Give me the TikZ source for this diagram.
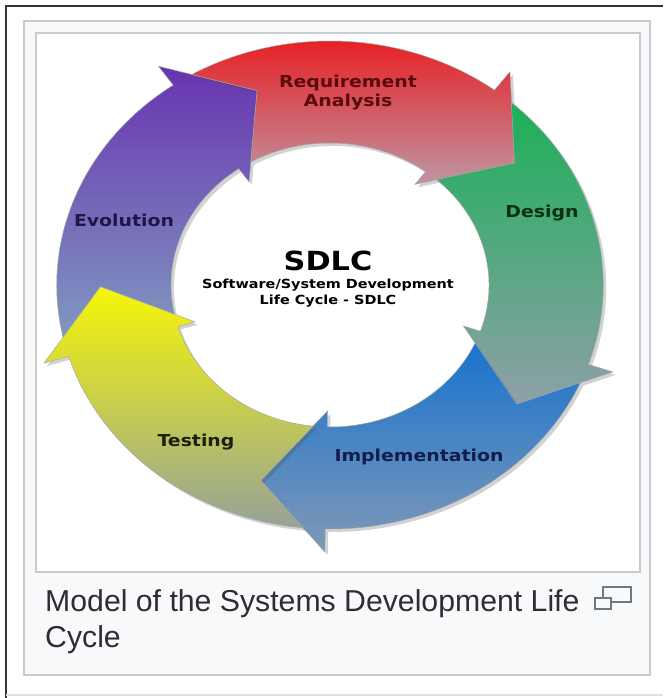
\documentclass[tikz,border=0pt]{standalone}
\usepackage{fontspec}
\setmainfont{Liberation Sans}
\newfontfamily\ringfont[FakeStretch=1.15]{DejaVu Sans}
\usetikzlibrary{shadows}

\definecolor{reqtop}{RGB}{236,20,24}
\definecolor{reqbot}{RGB}{190,150,162}
\definecolor{destop}{RGB}{28,176,88}
\definecolor{desbot}{RGB}{142,160,168}
\definecolor{imptop}{RGB}{24,116,206}
\definecolor{impbot}{RGB}{128,152,182}
\definecolor{testop}{RGB}{246,246,8}
\definecolor{tesbot}{RGB}{150,162,152}
\definecolor{evotop}{RGB}{104,52,176}
\definecolor{evobot}{RGB}{128,152,192}
\definecolor{reqtext}{RGB}{88,10,12}
\definecolor{destext}{RGB}{10,48,24}
\definecolor{imptext}{RGB}{18,28,78}
\definecolor{testext}{RGB}{30,30,10}
\definecolor{evotext}{RGB}{36,20,70}
\definecolor{boxline}{RGB}{200,204,209}
\definecolor{boxfill}{RGB}{248,249,250}
\definecolor{captext}{RGB}{44,46,50}
\definecolor{icongrey}{RGB}{114,119,125}

\tikzset{
  ringarrow/.style={draw=black!35, line width=0.4pt,
    drop shadow={shadow xshift=2.5pt, shadow yshift=-2.5pt, opacity=0.25, fill=black!70}},
  ringlabel/.style={font=\ringfont\bfseries\fontsize{14}{16.2}\selectfont, align=center, inner sep=0pt},
  boxframe/.style={draw=boxline, line width=1.6pt}
}

\begin{document}
\begin{tikzpicture}[x=0.03cm, y=0.03cm]
	\useasboundingbox (0,0) rectangle (663,698);

	% page edges
	\draw[black!80, line width=2.4pt] (6,0) -- (6,692) -- (663,692);
	\draw[black!12, line width=1pt] (6,3) -- (663,3);

	% thumbnail boxes
	\draw[boxframe, fill=boxfill] (24,23) rectangle (650,677);
	\draw[boxframe, fill=white] (36,126) rectangle (640,665);

	% ring of arrows
	\begin{scope}[shift={(330,413)}, xscale=1.12]
		\path[ringarrow, top color=evotop, bottom color=evobot]
			(192.4:244) arc[start angle=192.4, end angle=125, radius=244] -- (125:267) -- (108.5:205)
			-- (125:126) -- (125:142) arc[start angle=125, end angle=191.9, radius=142] -- (180.5:205) -- cycle;
		\path[ringarrow, top color=reqtop, bottom color=reqbot]
			(120.4:244) arc[start angle=120.4, end angle=53, radius=244] -- (53:267) -- (36.5:205)
			-- (53:126) -- (53:142) arc[start angle=53, end angle=119.9, radius=142] -- (108.5:205) -- cycle;
		\path[ringarrow, top color=destop, bottom color=desbot]
			(48.4:244) arc[start angle=48.4, end angle=-19, radius=244] -- (-19:267) -- (-35.5:205)
			-- (-19:126) -- (-19:142) arc[start angle=-19, end angle=47.9, radius=142] -- (36.5:205) -- cycle;
		\path[ringarrow, top color=imptop, bottom color=impbot]
			(-23.6:244) arc[start angle=-23.6, end angle=-91, radius=244] -- (-91:267) -- (-107.5:205)
			-- (-91:126) -- (-91:142) arc[start angle=-91, end angle=-24.1, radius=142] -- (-35.5:205) -- cycle;
		\path[ringarrow, top color=testop, bottom color=tesbot]
			(-95.6:244) arc[start angle=-95.6, end angle=-163, radius=244] -- (-163:267) -- (-179.5:205)
			-- (-163:126) -- (-163:142) arc[start angle=-163, end angle=-96.1, radius=142] -- (-107.5:205) -- cycle;
	\end{scope}

	% phase labels
	\node[ringlabel, text=reqtext] (req) at (348,605) {Requirement\\Analysis};
	\node[ringlabel, text=destext] (des) at (542,485) {Design};
	\node[ringlabel, text=imptext] (imp) at (419,241) {Implementation};
	\node[ringlabel, text=testext] (tes) at (196,256) {Testing};
	\node[ringlabel, text=evotext] (evo) at (124,478) {Evolution};

	% centre title
	\node[ringlabel, font=\ringfont\bfseries\fontsize{22.5}{26}\selectfont] (sdlc) at (328,437) {SDLC};
	\node[ringlabel, font=\ringfont\bfseries\fontsize{10.7}{13.6}\selectfont] (sub) at (328,405)
		{Software/System Development\\Life Cycle - SDLC};

	% caption
	\node[anchor=base west, inner sep=0pt, text=captext, font=\fontsize{25.8}{30}\selectfont] (cap1) at (45,86)
		{Model of the Systems Development Life};
	\node[anchor=base west, inner sep=0pt, text=captext, font=\fontsize{25.8}{30}\selectfont] (cap2) at (45,50) {Cycle};

	% enlarge icon
	\draw[icongrey, line width=1.7pt] (603,96) rectangle (631,111);
	\draw[icongrey, line width=1.7pt, fill=boxfill] (595,89) rectangle (611,100);
\end{tikzpicture}
\end{document}
